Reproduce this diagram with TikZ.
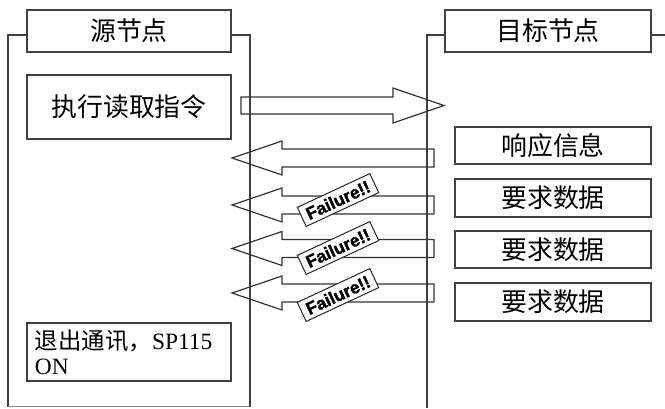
\documentclass[tikz,border=0pt]{standalone}
\usepackage{fontspec}
\setmainfont{Liberation Serif}
\newfontfamily\cjk{Noto Sans CJK SC}
\newfontfamily\failfont[UprightFont={* Bold}, FakeBold=1.5]{Liberation Sans}
\begin{document}
\begin{tikzpicture}[x=1bp,y=-1bp,
  ln/.style={draw=black!75, line width=1.4bp},
  box/.style={ln, rectangle, inner sep=0pt, font=\cjk\fontsize{26}{28}\selectfont},
  blk/.style={draw=black!80, line width=1.2bp, line join=miter},
  fail/.style={draw=black!85, line width=1bp, fill=white, rotate=25, minimum width=80bp, minimum height=21bp, inner sep=0pt, font=\failfont\fontsize{17.5}{17.5}\selectfont}]
\useasboundingbox (0,0) rectangle (665,408);
% panels
\coordinate (sa) at (8,35);
\coordinate (sb) at (8,406.5);
\coordinate (sc) at (250,406.5);
\coordinate (sd) at (250,35);
\coordinate (ta) at (427,35);
\coordinate (tb) at (427,408);
\coordinate (tc) at (665,35);
\draw[ln] (27,35) -- (sa) -- (sb);
\draw[draw=black!45, line width=1.2bp] (sb) -- (sc);
\draw[ln] (sc) -- (sd) -- (231,35);
\draw[ln] (445,35) -- (ta) -- (tb);
\draw[ln] (651,35) -- (tc);
% boxes
\node[box, minimum width=204bp, minimum height=42bp] (src) at (129,31) {源节点};
\node[box, minimum width=204bp, minimum height=64bp] (exec) at (129,107) {执行读取指令};
\node[box, minimum width=204bp, minimum height=58bp, text width=188bp, align=left,
      font=\cjk\fontsize{23.5}{25}\selectfont] (exit) at (129,352) {退出通讯，{\rmfamily SP115}\\{\rmfamily ON}};
\node[box, minimum width=206bp, minimum height=42bp] (dst) at (548,31) {目标节点};
\node[box, minimum width=196bp, minimum height=37bp] (resp) at (553,145.5) {响应信息};
\node[box, minimum width=196bp, minimum height=38bp] (req1) at (553,198) {要求数据};
\node[box, minimum width=196bp, minimum height=37bp] (req2) at (553,249.5) {要求数据};
\node[box, minimum width=196bp, minimum height=38bp] (req3) at (553,302) {要求数据};
% forward arrow
\draw[blk] (241,97) -- (393,97) -- (393,88) -- (444,105.5) -- (393,123) -- (393,114) -- (241,114) -- cycle;
% return arrows
\foreach \c in {158,205,248.5,293}{
  \draw[blk] (434,\c-9) -- (282,\c-9) -- (282,\c-17) -- (232,\c) -- (282,\c+17) -- (282,\c+9) -- (434,\c+9) -- cycle;
}
% failure labels
\node[fail] (f1) at (338,200) {Failure!!};
\node[fail] (f2) at (338,248) {Failure!!};
\node[fail] (f3) at (338,295) {Failure!!};
\end{tikzpicture}
\end{document}
